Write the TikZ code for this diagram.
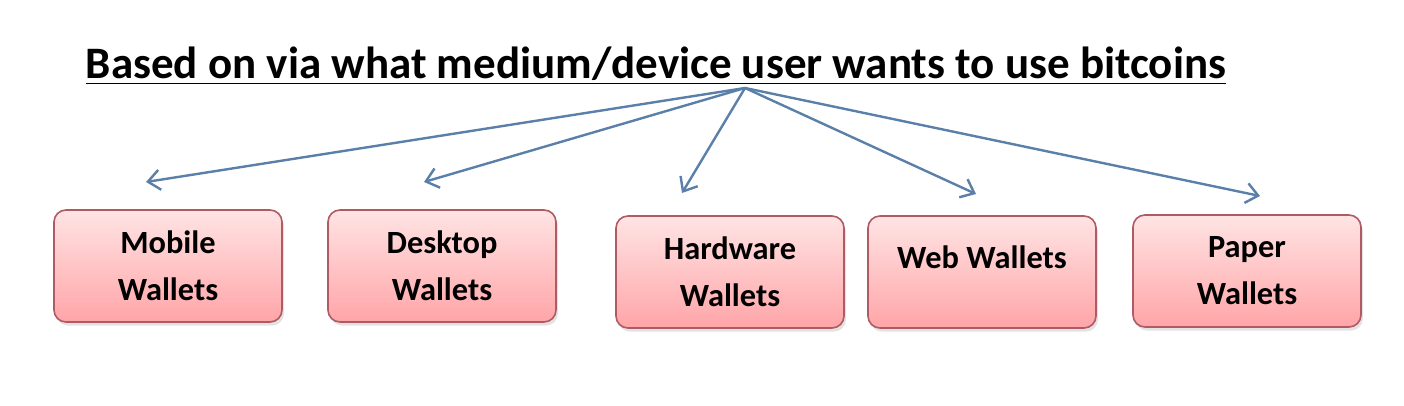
\documentclass[tikz,border=0pt]{standalone}
\usepackage{fontspec}
\setmainfont{Carlito}
\usetikzlibrary{arrows.meta,positioning,shadows}
\definecolor{WalletRose}{HTML}{B05A64}
\definecolor{WalletTop}{HTML}{FFE4E4}
\definecolor{WalletBottom}{HTML}{FFA5A8}
\definecolor{LinkBlue}{HTML}{5A7FA8}

\begin{document}
\begin{tikzpicture}[
  x=0.5pt,y=-0.5pt,
  wallet/.style={draw=WalletRose,line width=0.8pt,rounded corners=6pt,
                 top color=WalletTop,bottom color=WalletBottom,
                 minimum width=114pt,minimum height=56pt,align=center,
                 font=\fontsize{16.2}{23.5}\selectfont\bfseries,
                 drop shadow={opacity=0.22,shadow xshift=1pt,shadow yshift=-1.8pt}},
  link/.style={-{Straight Barb[length=6pt,width=10pt]},LinkBlue,line width=1.2pt},
  heading/.style={font=\fontsize{22.5}{27}\selectfont\bfseries,inner sep=0pt}
]
\useasboundingbox (0,0) rectangle (1404,406);
\node[heading] (title) at (656,66) {\underline{Based on via what medium/device user wants to use bitcoins}};
\coordinate (apex) at (745,88);

\node[wallet] (mobile) at (168,266) {Mobile\\Wallets};
\node[wallet] (desktop) at (442,266) {Desktop\\Wallets};
\node[wallet] (hardware) at (730,272) {Hardware\\Wallets};
\node[wallet] (web) at (982,272) {\smash{\raisebox{1.5pt}{Web Wallets}}};
\node[wallet] (paper) at (1247,271) {Paper\\Wallets};

% arrow tips stop short of the boxes
\coordinate (tipmobile) at (146,182);
\coordinate (tipdesktop) at (424,182);
\coordinate (tiphardware) at (682,193);
\coordinate (tipweb) at (976,194);
\coordinate (tippaper) at (1260,196);

\draw[link] (apex) -- (tipmobile);
\draw[link] (apex) -- (tipdesktop);
\draw[link] (apex) -- (tiphardware);
\draw[link] (apex) -- (tipweb);
\draw[link] (apex) -- (tippaper);
\end{tikzpicture}
\end{document}
